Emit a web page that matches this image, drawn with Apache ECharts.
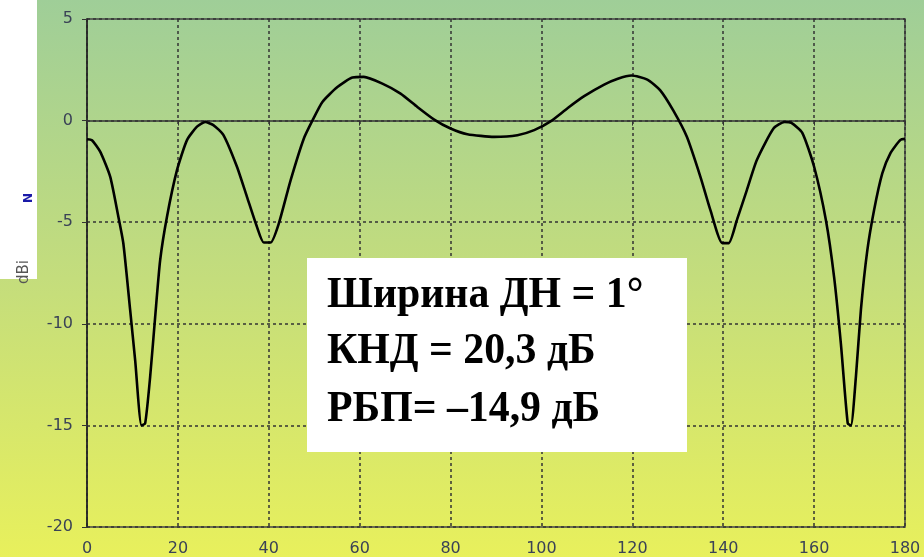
<!DOCTYPE html>
<html>
<head>
<meta charset="utf-8">
<script src="https://cdn.jsdelivr.net/npm/echarts@6/dist/echarts.min.js"></script>
<style>
html,body{margin:0;padding:0;width:924px;height:557px;overflow:hidden;}
#chart{width:924px;height:557px;}
</style>
</head>
<body>
<div id="chart"></div>
<script>
// Radiation pattern (angle in degrees, gain in dBi)
var angles = [0, 1.1, 2.9, 5.1, 6.9, 8.0, 9.5, 10.6, 12.0, 12.8, 13.9, 15.0, 16.1, 17.6, 19.8, 22.0, 24.2, 26.0, 27.8, 30.0,
  33.0, 35.2, 37.4, 38.9, 40.4, 42.2, 44.8, 47.7, 49.6, 51.8, 55.1, 58.4, 60.9, 65.0, 69.0, 72.7, 76.4, 80.0, 83.7, 89.6,
  94.7, 98.4, 102.0, 105.8, 109.4, 113.8, 116.8, 119.8, 123.3, 126.1, 129.0, 132.0, 135.0, 137.2, 139.8, 141.2, 143.0, 145.2, 147.4, 151.1,
  153.5, 155.0, 157.4, 160.0, 162.6, 164.4, 165.9, 167.4, 168.1, 169.2, 170.3, 171.7, 173.2, 175.0, 176.8, 179.0, 180];
var gains = [-0.92, -0.97, -1.53, -2.76, -4.73, -6.05, -9.33, -11.8, -15.0, -14.9, -12.6, -9.66, -6.87, -4.73, -2.44, -0.96, -0.3, -0.07, -0.22, -0.7,
  -2.27, -3.75, -5.23, -6.0, -6.0, -5.07, -2.94, -0.89, 0.0, 0.92, 1.65, 2.12, 2.15, 1.82, 1.33, 0.67, 0.05, -0.39, -0.67, -0.8,
  -0.72, -0.47, -0.04, 0.62, 1.2, 1.77, 2.06, 2.22, 2.02, 1.5, 0.5, -0.8, -2.78, -4.42, -6.03, -6.03, -4.9, -3.42, -1.94, -0.38,
  -0.07, -0.11, -0.6, -2.27, -4.9, -7.7, -11.0, -14.9, -15.0, -12.6, -9.3, -6.4, -4.4, -2.6, -1.6, -0.95, -0.9];
var xTicks = [0, 20, 40, 60, 80, 100, 120, 140, 160, 180];
var yTicks = [-20, -15, -10, -5, 0, 5];
var infoLines = ['Ширина ДН = 1°', 'КНД = 20,3 дБ', 'РБП= –14,9 дБ'];
var yUnit = 'dBi';
var axisMark = 'N';

var data = angles.map(function (a, i) { return [a, gains[i]]; });

var chart = echarts.init(document.getElementById('chart'));
var labelStyle = { color: '#3a4256', fontSize: 16, fontFamily: 'DejaVu Sans' };
var split = { show: true, lineStyle: { color: '#333', width: 1.5, type: [3, 3] } };

var infoTexts = infoLines.map(function (t, i) {
  return {
    type: 'text', x: 327, y: [296, 352, 410][i], z: 101,
    scaleX: 0.95, originX: 0, originY: 0,
    style: { text: t, fill: '#000', font: 'bold 44px "Liberation Serif"', textVerticalAlign: 'middle', textAlign: 'left' }
  };
});

chart.setOption({
  backgroundColor: new echarts.graphic.LinearGradient(0, 0, 0, 1, [
    { offset: 0, color: '#9fce98' },
    { offset: 0.5, color: '#c4dd7c' },
    { offset: 1, color: '#e8f05c' }
  ]),
  animation: false,
  grid: { left: 87, right: 19, top: 19, bottom: 30, show: true, borderColor: '#444', borderWidth: 1.5, backgroundColor: 'transparent' },
  xAxis: {
    type: 'value', min: xTicks[0], max: xTicks[xTicks.length - 1], interval: 20,
    axisLine: { show: true, lineStyle: { color: '#333', width: 1.5 } },
    axisTick: { show: true, length: 5, lineStyle: { color: '#333' } },
    axisLabel: Object.assign({ margin: 14 }, labelStyle),
    splitLine: split
  },
  yAxis: {
    type: 'value', min: yTicks[0], max: yTicks[yTicks.length - 1], interval: 5,
    axisLine: { show: true, lineStyle: { color: '#222', width: 1.5 } },
    axisTick: { show: true, length: 5, lineStyle: { color: '#333' } },
    axisLabel: Object.assign({ margin: 14 }, labelStyle),
    splitLine: split
  },
  graphic: [
    { type: 'rect', shape: { x: 0, y: 0, width: 37, height: 279 }, style: { fill: '#fff' }, z: -1 },
    { type: 'text', x: 24, y: 272, rotation: Math.PI / 2, z: 5,
      style: { text: yUnit, fill: '#555', font: '15px "DejaVu Sans"', textAlign: 'center', textVerticalAlign: 'middle' } },
    { type: 'text', x: 29, y: 198, rotation: Math.PI / 2, z: 5,
      style: { text: axisMark, fill: '#1a1aa8', font: 'bold 12px "DejaVu Sans"', textAlign: 'center', textVerticalAlign: 'middle' } },
    { type: 'rect', shape: { x: 307, y: 258, width: 380, height: 194 }, style: { fill: '#fff' }, z: 100 }
  ].concat(infoTexts),
  series: [{
    type: 'line', data: data, smooth: 0.2, showSymbol: false, symbol: 'none',
    lineStyle: { color: '#000', width: 2.6 }
  }]
});
</script>
</body>
</html>
